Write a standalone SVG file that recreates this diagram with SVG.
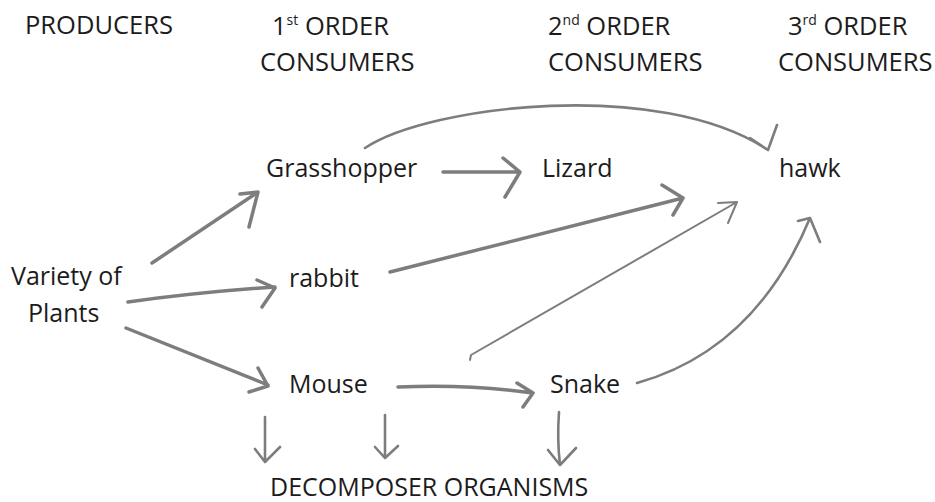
<svg xmlns="http://www.w3.org/2000/svg" width="935" height="502" viewBox="0 0 935 502">
<style>
text{font-family:"Open Sans","Liberation Sans",sans-serif;font-size:25px;fill:#1c1c1c}
.h{font-size:25.5px}
.sup{font-size:14px}
.c path{fill:none;stroke:#7d7d7d;stroke-width:3.5;stroke-linecap:round;stroke-linejoin:round}
.c .thin{stroke-width:2}
.c .mid{stroke-width:2.6}
</style>
<rect width="935" height="502" fill="#fff"/>
<g id="headers">
<text class="h" x="25" y="34">PRODUCERS</text>
<text class="h" x="272" y="35">1<tspan class="sup" dy="-10">st</tspan><tspan dy="10"> ORDER</tspan></text>
<text class="h" x="260" y="71">CONSUMERS</text>
<text class="h" x="548" y="35">2<tspan class="sup" dy="-10">nd</tspan><tspan dy="10"> ORDER</tspan></text>
<text class="h" x="548" y="71">CONSUMERS</text>
<text class="h" x="788" y="35">3<tspan class="sup" dy="-10">rd</tspan><tspan dy="10"> ORDER</tspan></text>
<text class="h" x="778" y="71">CONSUMERS</text>
</g>
<g id="plants"><text x="11" y="285">Variety of</text><text x="28" y="322">Plants</text></g>
<g id="grasshopper"><text x="266" y="177">Grasshopper</text></g>
<g id="lizard"><text x="542" y="177">Lizard</text></g>
<g id="hawk"><text x="779" y="177">hawk</text></g>
<g id="rabbit"><text x="289" y="287">rabbit</text></g>
<g id="mouse"><text x="289" y="393">Mouse</text></g>
<g id="snake"><text x="550" y="393">Snake</text></g>
<g id="decomposers"><text x="270" y="496">DECOMPOSER ORGANISMS</text></g>
<g id="connectors" class="c">
<path d="M152,263 L258,192 M240,194 L258,192 L249,227"/>
<path d="M128,302 Q200,292 275,287 M257,280 L275,288 L262,307"/>
<path d="M126,328 L268,385 M258,368 L268,386 L249,392"/>
<path d="M443,172 L520,172 M503,158 L520,172 L505,197"/>
<path class="mid" d="M365,148 C430,105 660,78 768,150 M777,125 L768,150 L750,138"/>
<path d="M390,272 L683,198 M662,185 L683,198 L673,215"/>
<path class="thin" d="M470,360 L471,355 L737,202 M718,203 L737,202 L728,223"/>
<path class="mid" d="M637,383 Q755,350 810,218 M798,221 L810,218 L820,242"/>
<path d="M398,387 Q470,384 533,393 M517,383 L533,393 L523,407"/>
<path class="mid" d="M265,417 L265,462 M255,449 L265,462 L280,447"/>
<path class="mid" d="M385,415 L385,458 M375,447 L385,458 L398,446"/>
<path class="mid" d="M559,412 Q557,440 560,465 M548,450 L560,465 L576,448"/>
</g>
</svg>
